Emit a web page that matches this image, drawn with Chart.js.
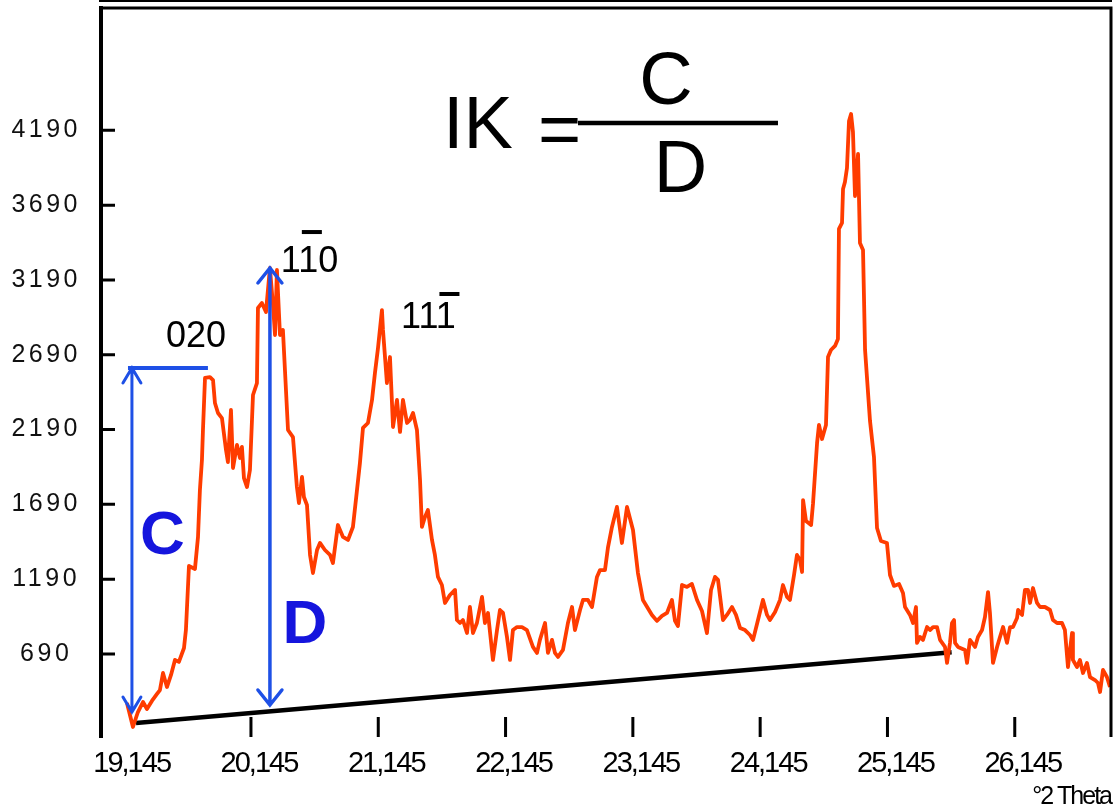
<!DOCTYPE html>
<html>
<head>
<meta charset="utf-8">
<script src="https://cdn.jsdelivr.net/npm/chart.js@4.4.0/dist/chart.umd.min.js"></script>
<style>
  html, body { margin: 0; padding: 0; background: #fff; }
</style>
</head>
<body>
<canvas id="xrdChart" width="1113" height="810"></canvas>
<script>
// Diffractogram: 2-theta (degrees) and counts
const twoTheta = [
  19.171, 19.218, 19.257, 19.297, 19.328, 19.367, 19.407, 19.430, 19.454, 19.485,
  19.517, 19.548, 19.579, 19.619, 19.634, 19.658, 19.705, 19.729, 19.744, 19.760,
  19.768, 19.784, 19.823, 19.847, 19.862, 19.886, 19.917, 19.949, 19.964, 19.988,
  20.004, 20.035, 20.059, 20.074, 20.090, 20.114, 20.137, 20.161, 20.192, 20.200,
  20.231, 20.263, 20.294, 20.318, 20.334, 20.349, 20.373, 20.396, 20.436, 20.475,
  20.506, 20.522, 20.546, 20.561, 20.585, 20.609, 20.632, 20.664, 20.687, 20.726,
  20.766, 20.789, 20.828, 20.868, 20.907, 20.946, 20.978, 21.001, 21.025, 21.064,
  21.096, 21.119, 21.143, 21.174, 21.182, 21.198, 21.213, 21.237, 21.261, 21.292,
  21.316, 21.339, 21.371, 21.394, 21.418, 21.449, 21.473, 21.488, 21.512, 21.535,
  21.567, 21.590, 21.614, 21.645, 21.669, 21.708, 21.748, 21.763, 21.787, 21.810,
  21.842, 21.865, 21.889, 21.920, 21.960, 21.983, 22.007, 22.046, 22.078, 22.101,
  22.125, 22.156, 22.180, 22.203, 22.235, 22.274, 22.313, 22.360, 22.392, 22.415,
  22.455, 22.478, 22.510, 22.533, 22.557, 22.596, 22.635, 22.667, 22.690, 22.730,
  22.753, 22.792, 22.824, 22.863, 22.887, 22.926, 22.950, 22.981, 23.020, 23.059,
  23.099, 23.146, 23.185, 23.224, 23.295, 23.334, 23.374, 23.413, 23.452, 23.476,
  23.499, 23.531, 23.570, 23.609, 23.649, 23.688, 23.727, 23.759, 23.790, 23.814,
  23.853, 23.884, 23.924, 23.955, 23.987, 24.026, 24.065, 24.089, 24.128, 24.167,
  24.199, 24.222, 24.262, 24.301, 24.324, 24.356, 24.379, 24.411, 24.434, 24.458,
  24.474, 24.482, 24.505, 24.545, 24.560, 24.592, 24.607, 24.631, 24.662, 24.678,
  24.701, 24.733, 24.756, 24.764, 24.788, 24.796, 24.811, 24.827, 24.843, 24.859,
  24.874, 24.890, 24.914, 24.929, 24.953, 24.969, 25.008, 25.039, 25.063, 25.094,
  25.141, 25.165, 25.196, 25.236, 25.267, 25.283, 25.322, 25.346, 25.369, 25.377,
  25.401, 25.424, 25.456, 25.479, 25.503, 25.534, 25.558, 25.597, 25.613, 25.636,
  25.652, 25.668, 25.676, 25.699, 25.754, 25.770, 25.793, 25.833, 25.856, 25.888,
  25.911, 25.935, 25.950, 25.974, 26.006, 26.029, 26.053, 26.084, 26.108, 26.131,
  26.163, 26.171, 26.202, 26.225, 26.249, 26.265, 26.288, 26.320, 26.343, 26.382,
  26.422, 26.445, 26.477, 26.516, 26.539, 26.563, 26.595, 26.602, 26.634, 26.657,
  26.681, 26.712, 26.736, 26.775, 26.799, 26.815, 26.838, 26.869, 26.893
];

const intensity = [
  362, 202, 302, 369, 322, 376, 423, 449, 563, 469,
  550, 650, 637, 730, 850, 1278, 1258, 1472, 1786, 1987,
  2187, 2535, 2541, 2521, 2368, 2301, 2267, 2054, 1973, 2321,
  1933, 2087, 2000, 2074, 1866, 1806, 1920, 2421, 2501, 3003,
  3036, 2976, 3270, 3023, 2822, 3257, 2822, 2856, 2187, 2140,
  1806, 1699, 1873, 1739, 1686, 1352, 1231, 1385, 1432, 1385,
  1352, 1298, 1552, 1472, 1452, 1539, 1786, 1967, 2201, 2234,
  2388, 2568, 2735, 2989, 2856, 2675, 2501, 2675, 2207, 2388,
  2174, 2388, 2234, 2254, 2301, 2187, 1853, 1539, 1606, 1652,
  1452, 1352, 1205, 1151, 1031, 1084, 1118, 917, 897, 917,
  830, 1004, 830, 897, 1071, 897, 964, 650, 850, 984,
  964, 804, 650, 850, 870, 870, 850, 737, 697, 784,
  897, 697, 784, 697, 670, 717, 897, 1004, 850, 984,
  1051, 1051, 1004, 1205, 1251, 1251, 1405, 1539, 1673, 1432,
  1673, 1519, 1231, 1051, 951, 911, 944, 964, 1051, 911,
  877, 1151, 1138, 1158, 1051, 977, 830, 1118, 1205, 1185,
  917, 951, 1004, 951, 864, 850, 817, 784, 917, 1051,
  951, 917, 971, 1051, 1151, 1071, 1051, 1218, 1352, 1318,
  1238, 1719, 1579, 1552, 1693, 2100, 2221, 2127, 2221, 2675,
  2722, 2749, 2795, 3531, 3571, 3798, 3845, 3938, 4253, 4299,
  4179, 3751, 4032, 3437, 3390, 2722, 2247, 2007, 1532, 1445,
  1432, 1218, 1145, 1158, 1098, 1004, 951, 897, 1004, 764,
  804, 784, 870, 850, 870, 870, 784, 737, 630, 764,
  897, 917, 764, 737, 717, 630, 784, 737, 804, 850,
  937, 1104, 964, 630, 737, 804, 870, 764, 870, 870,
  931, 984, 951, 1118, 1118, 1031, 1131, 1031, 1004, 1004,
  984, 917, 897, 897, 850, 603, 830, 650, 603, 650,
  563, 630, 536, 516, 496, 436, 583, 536, 469
];

// axis ticks
const xTickValues = [19.145, 20.145, 21.145, 22.145, 23.145, 24.145, 25.145, 26.145];
const xTickLabels = ['19,145', '20,145', '21,145', '22,145', '23,145', '24,145', '25,145', '26,145'];
const yTickValues = [690, 1190, 1690, 2190, 2690, 3190, 3690, 4190];
const yTickLabels = ['690', '1190', '1690', '2190', '2690', '3190', '3690', '4190'];

// straight background line under the pattern
const baselineTheta = [19.242, 25.649];
const baselineIntensity = [229, 701];

// C and D arrows (2-theta, low end, high end) and the cap over the 020 peak
const arrowC = [19.210, 302, 2602];
const arrowD = [20.294, 349, 3270];
const capC = [19.179, 19.807, 2602];

// IK = C / D formula and peak labels
const fracBar = [22.714, 24.285, 4239];
const textLabels = [
  { text: 'IK', theta: 21.653, value: 4072, font: '74px "Liberation Sans", Arial, sans-serif', color: '#000', align: 'left' },
  { text: '=', theta: 22.400, value: 4032, font: '74px "Liberation Sans", Arial, sans-serif', color: '#000', align: 'left' },
  { text: 'C', theta: 23.405, value: 4366, font: '74px "Liberation Sans", Arial, sans-serif', color: '#000' },
  { text: 'D', theta: 23.519, value: 3778, font: '74px "Liberation Sans", Arial, sans-serif', color: '#000' },
  { text: '020', theta: 19.713, value: 2742, font: '36px "Liberation Sans", Arial, sans-serif', color: '#000' },
  { text: '110', theta: 20.605, value: 3243, font: '36px "Liberation Sans", Arial, sans-serif', color: '#000', bar: 1, barRise: 40 },
  { text: '111', theta: 21.539, value: 2869, font: '36px "Liberation Sans", Arial, sans-serif', color: '#000', bar: 2, barRise: 34 },
  { text: 'C', theta: 19.450, value: 1358, font: 'bold 62px "Liberation Sans", Arial, sans-serif', color: '#1515dd' },
  { text: 'D', theta: 20.569, value: 764, font: 'bold 62px "Liberation Sans", Arial, sans-serif', color: '#1515dd' }
];

const sansFont = '"Liberation Sans", Arial, sans-serif';
const arrowBlue = '#1e50e6';

// vertical double arrow with open heads
function drawArrow(ctx, px, top, bottom, half, len, width) {
  ctx.lineWidth = width;
  ctx.beginPath();
  ctx.moveTo(px, top);
  ctx.lineTo(px, bottom);
  ctx.moveTo(px - half, top + len);
  ctx.lineTo(px, top);
  ctx.lineTo(px + half, top + len);
  ctx.moveTo(px - half, bottom - len);
  ctx.lineTo(px, bottom);
  ctx.lineTo(px + half, bottom - len);
  ctx.stroke();
}

const decorations = {
  id: 'decorations',
  beforeDraw(chart) {
    // wide tracking for the y labels, which are drawn before the datasets
    chart.ctx.letterSpacing = '3.5px';
  },
  beforeDatasetsDraw(chart) {
    chart.ctx.letterSpacing = '0px';
  },
  afterDatasetsDraw(chart) {
    const { ctx, chartArea: a, scales: { x, y } } = chart;
    ctx.save();
    ctx.strokeStyle = '#000';
    ctx.lineWidth = 3;
    ctx.beginPath();
    ctx.moveTo(a.left, a.top);
    ctx.lineTo(a.right, a.top);
    ctx.lineTo(a.right, a.bottom);
    // inner tick marks (no mark shows at the first x tick)
    y.ticks.forEach(t => {
      const py = y.getPixelForValue(t.value);
      ctx.moveTo(a.left, py);
      ctx.lineTo(a.left + 14, py);
    });
    x.ticks.slice(1).forEach(t => {
      const px = x.getPixelForValue(t.value);
      ctx.moveTo(px, a.bottom);
      ctx.lineTo(px, a.bottom - 20);
    });
    ctx.stroke();

    // blue measurement arrows
    ctx.strokeStyle = arrowBlue;
    ctx.lineCap = 'round';
    drawArrow(ctx, x.getPixelForValue(arrowC[0]), y.getPixelForValue(arrowC[2]), y.getPixelForValue(arrowC[1]), 9, 15, 3);
    drawArrow(ctx, x.getPixelForValue(arrowD[0]), y.getPixelForValue(arrowD[2]), y.getPixelForValue(arrowD[1]), 12, 15, 3.5);
    ctx.lineCap = 'butt';
    ctx.lineWidth = 4;
    ctx.beginPath();
    ctx.moveTo(x.getPixelForValue(capC[0]), y.getPixelForValue(capC[2]));
    ctx.lineTo(x.getPixelForValue(capC[1]), y.getPixelForValue(capC[2]));
    ctx.stroke();

    // fraction bar
    ctx.strokeStyle = '#000';
    ctx.lineWidth = 4.5;
    ctx.beginPath();
    ctx.moveTo(x.getPixelForValue(fracBar[0]), y.getPixelForValue(fracBar[2]));
    ctx.lineTo(x.getPixelForValue(fracBar[1]), y.getPixelForValue(fracBar[2]));
    ctx.stroke();

    // texts
    ctx.textBaseline = 'alphabetic';
    textLabels.forEach(lab => {
      ctx.font = lab.font;
      ctx.fillStyle = lab.color;
      ctx.textAlign = lab.align || 'center';
      const px = x.getPixelForValue(lab.theta);
      const py = y.getPixelForValue(lab.value);
      ctx.fillText(lab.text, px, py);
      if (lab.bar !== undefined) {
        const w = ctx.measureText(lab.text).width;
        const left = ctx.textAlign === 'center' ? px - w / 2 : px;
        const before = ctx.measureText(lab.text.slice(0, lab.bar)).width;
        const cw = ctx.measureText(lab.text[lab.bar]).width;
        ctx.fillRect(left + before + 1, py - lab.barRise - 2, cw, 4);
      }
    });
    ctx.restore();
    // tighter x labels and axis title, drawn after this hook
    ctx.letterSpacing = '-2px';
  },
  afterDraw(chart) {
    chart.ctx.letterSpacing = '0px';
  }
};

new Chart(document.getElementById('xrdChart'), {
  type: 'line',
  plugins: [decorations],
  data: {
    datasets: [
      {
        label: 'Intensity',
        data: twoTheta.map((t, i) => ({ x: t, y: intensity[i] })),
        borderColor: '#ff3c00',
        borderWidth: 3.8,
        borderJoinStyle: 'round',
        pointRadius: 0,
        tension: 0,
        order: 1
      },
      {
        label: 'Baseline',
        data: baselineTheta.map((t, i) => ({ x: t, y: baselineIntensity[i] })),
        borderColor: '#000',
        borderWidth: 4.5,
        pointRadius: 0,
        order: 2
      }
    ]
  },
  options: {
    responsive: false,
    animation: false,
    devicePixelRatio: 1,
    layout: { padding: { top: 8, right: 2, left: 0, bottom: 0 } },
    plugins: {
      legend: { display: false },
      tooltip: { enabled: false }
    },
    scales: {
      x: {
        type: 'linear',
        min: 18.967,
        max: 26.901,
        afterBuildTicks: s => { s.ticks = xTickValues.map(v => ({ value: v })); },
        afterFit: s => { s.height = 73; s.paddingLeft = 0; s.paddingRight = 0; },
        grid: { display: false, z: 1 },
        border: { display: true, color: '#000', width: 4 },
        ticks: {
          z: 1,
          autoSkip: false,
          maxRotation: 0,
          padding: 2,
          labelOffset: 8,
          color: '#000',
          font: { family: sansFont, size: 29 },
          callback: (v, i) => xTickLabels[i]
        },
        title: {
          display: true,
          text: '°2 Theta',
          align: 'end',
          color: '#000',
          padding: 0,
          font: { family: sansFont, size: 25, lineHeight: 1 }
        }
      },
      y: {
        type: 'linear',
        min: 135,
        max: 5008,
        afterBuildTicks: s => { s.ticks = yTickValues.map(v => ({ value: v })); },
        afterFit: s => { s.width = 101; s.paddingTop = 0; s.paddingBottom = 0; },
        grid: { display: false },
        border: { display: true, color: '#000', width: 4 },
        ticks: {
          z: 0,
          padding: 19,
          crossAlign: 'center',
          color: '#111',
          font: { family: sansFont, size: 25 },
          callback: (v, i) => yTickLabels[i]
        }
      }
    }
  }
});
</script>
</body>
</html>
